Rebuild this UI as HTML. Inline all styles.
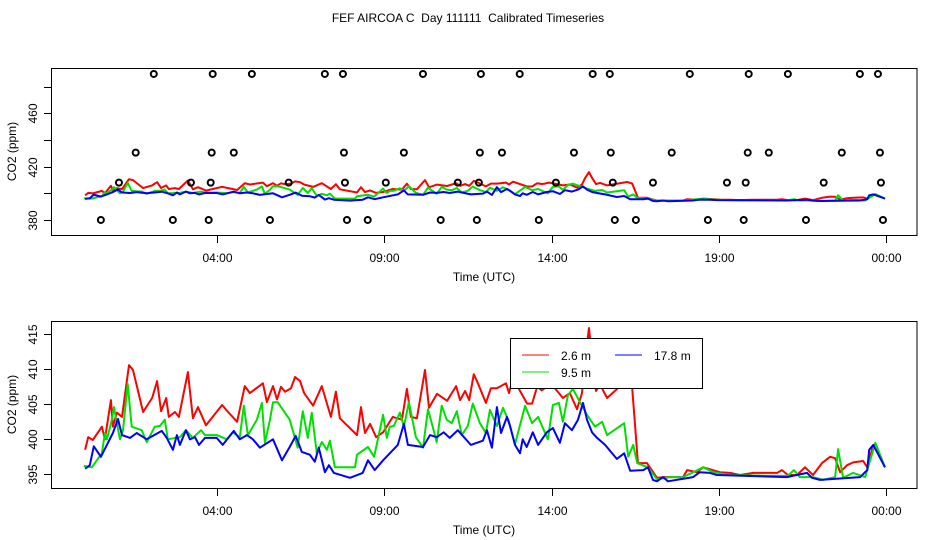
<!DOCTYPE html>
<html><head><meta charset="utf-8"><style>
body{margin:0;background:#fff}
svg{display:block;font-family:"Liberation Sans",sans-serif}
</style></head><body>
<svg id="c" width="936" height="540" xmlns="http://www.w3.org/2000/svg"></svg>
<script>
const tRed=[0.07,0.16,0.30,0.57,0.66,0.84,0.90,1.02,1.17,1.38,1.50,1.80,2.07,2.22,2.34,2.49,2.57,2.75,2.87,3.14,3.29,3.44,3.68,4.16,4.34,4.61,4.84,4.99,5.38,5.50,5.68,5.80,5.92,6.04,6.22,6.34,6.49,6.61,6.88,7.14,7.41,7.56,7.68,8.19,8.31,8.43,8.58,8.76,8.97,9.26,9.53,9.68,9.80,9.98,10.22,10.34,10.58,10.88,11.15,11.27,11.42,11.54,11.68,11.80,12.04,12.19,12.37,12.64,12.73,12.85,13.27,13.42,13.57,13.71,13.80,13.92,14.10,14.34,14.55,14.76,14.91,15.00,15.12,15.21,15.33,15.45,15.66,16.26,16.41,16.49,16.58,16.85,17.15,17.39,17.93,18.05,18.34,18.53,19.03,19.33,19.63,20.02,20.74,20.88,21.06,21.33,21.57,21.81,22.08,22.32,22.47,22.62,22.83,23.01,23.31,23.43,23.61];
const vRed=[398.5,400.3,399.9,401.8,400,405.6,401.8,403.8,403.2,410.6,409.9,403.9,405.9,408.3,404,405.9,403.2,403.9,403.2,409.6,403,404.6,402,404.9,403.9,402.5,407.6,406.6,408,405.3,407.6,405.7,407.5,406.8,407.3,408.9,408.3,406.6,404.8,407.6,403.2,406.8,403,400.6,404.6,400.9,402.2,400.3,401,403.2,402.8,407.2,403.2,403,409.9,404.5,406.5,405.5,407.6,405.6,406.9,405.6,409.3,408,405.2,407.3,407.3,408,406.6,408.7,405.1,405.1,407.5,407,407.3,408,407.3,405.9,406.6,404.3,406.6,411.3,415.9,411.6,406.9,407.8,405.9,408.5,407.3,402.3,396.6,396.6,394.5,394.6,394.6,395.6,395.3,396,395.3,395.2,394.9,395.2,395.2,395.6,394.9,394.9,396,394.9,396.6,397.5,397.3,395.3,396.3,396.7,396.9,396,399.2];
const tGreen=[0.03,0.27,0.57,0.66,0.72,0.87,0.93,1.02,1.11,1.20,1.34,1.46,1.76,1.91,2.15,2.30,2.45,2.54,2.90,3.08,3.29,3.53,3.65,4.00,4.30,4.48,4.69,4.81,4.93,5.20,5.35,5.44,5.59,5.68,5.82,6.18,6.42,6.57,6.72,6.84,6.99,7.14,7.29,7.38,7.53,8.13,8.19,8.52,8.70,8.97,9.08,9.17,9.29,9.47,9.59,9.74,9.95,10.16,10.31,10.45,10.57,10.72,10.87,11.02,11.17,11.32,11.50,11.65,11.86,12.04,12.16,12.37,12.55,12.73,12.91,13.21,13.42,13.60,13.89,14.04,14.22,14.34,14.49,14.64,14.85,15.06,15.30,15.51,15.66,16.17,16.29,16.44,16.56,16.88,17.15,17.54,17.93,18.53,18.83,19.33,20.44,21.06,21.24,21.42,21.81,22.11,22.47,22.56,22.71,23.01,23.37,23.67,23.96];
const vGreen=[396.2,396,398,400.9,400,402.8,404.6,402.3,400,401.3,407.9,401.8,401.3,399.6,401.8,401.9,402.8,400,400.3,401.3,400.2,401.3,400.6,400.6,400,401,400.3,404.8,400.6,402.8,405.2,399.5,402.8,405.3,405.3,402.8,398.8,404,400.2,403.8,398,399.6,398.5,399.8,396,396,397.8,398.9,397.5,403.5,400.2,401.8,401.9,403.8,401.8,405.3,400.3,398.8,404.3,401.8,399.6,404.8,402.8,402.3,404,400.6,401.9,405.1,402.3,400.9,404.2,401.9,404.5,402.5,399.3,404.8,402.3,403.2,400,404.9,405.2,402.5,406.3,407.2,405.3,403.5,401.8,402.5,400.6,402.3,397.5,399.2,396.6,396,394.3,394.6,394.6,396,395.3,394.9,394.8,394.8,395.6,394.6,394.6,394.2,394.6,398.6,394.5,395.2,394.6,399.5,396];
const tBlue=[0.07,0.21,0.33,0.54,0.72,0.90,1.05,1.17,1.41,1.61,1.91,2.36,2.51,2.69,2.81,2.90,3.08,3.20,3.35,3.47,3.65,4.00,4.18,4.51,4.69,4.90,5.08,5.29,5.68,5.95,6.18,6.36,6.54,6.78,6.93,7.05,7.23,7.35,7.50,7.98,8.36,8.52,8.72,8.97,9.41,9.59,9.71,10.16,10.37,10.57,10.78,10.96,11.20,11.59,11.95,12.07,12.22,12.37,12.49,12.67,12.76,12.91,13.06,13.14,13.26,13.44,13.60,13.86,14.04,14.25,14.40,14.61,14.79,14.94,15.06,15.21,15.36,15.60,15.95,16.17,16.35,16.74,16.88,17.03,17.15,17.33,17.48,18.23,18.43,18.73,18.94,21.03,21.63,21.78,22.02,23.22,23.43,23.49,23.61,23.96];
const vBlue=[395.8,396.3,399,397.5,399.2,400.9,402.9,400.6,400.2,400.9,400,401.2,400.2,398.5,400.6,399.2,401.3,400,400.3,399.2,400.2,400.2,399.2,401.2,400,400.6,400,398.8,400,397,398.9,400.5,398.2,397.8,396.8,398.8,395.3,396.3,395.2,394.5,395.2,397,395.6,397,399.2,402.2,399.2,398.9,400.6,400.3,401,400.2,401.3,399.2,399.8,401.3,398.8,404.6,400.9,403.2,401.9,399.2,398,400,398.9,401,399.2,401,401.6,399.5,402.3,401.3,402.8,405.2,402.8,401,400.2,399.2,397.2,398,395.5,395.6,396,394.2,394,394.6,394,394.6,395.3,395.2,394.9,394.6,395.2,394.5,394.2,394.6,395.6,398.5,399.2,396];
const cTimes490=[2.12,3.88,5.05,7.23,7.77,10.16,11.89,13.05,15.23,15.74,18.13,19.89,21.06,23.21,23.75];
const cTimes430=[1.58,3.85,4.51,7.80,9.59,11.86,12.52,14.67,15.77,17.59,19.86,20.49,22.67,23.81];
const cTimes408=[1.08,3.23,3.82,6.15,7.83,9.05,11.20,11.83,14.13,15.83,17.03,19.24,19.80,22.13,23.84];
const cTimes380=[0.54,2.69,3.76,5.59,7.89,8.51,10.69,11.77,13.62,15.89,16.52,18.67,19.74,21.60,23.90];
const circleLevels=[489.5,430.5,408,380];
const xTickHours=[4,9,14,19,24];
const xTickLabels=["04:00","09:00","14:00","19:00","00:00"];
const topYTicks=[380,400,420,440,460,480];
const topYLabels=["380","","420","","460",""];
const botYTicks=[395,400,405,410,415];

const NS="http://www.w3.org/2000/svg";
const svg=document.getElementById('c');
function mk(tag,attrs,parent){const e=document.createElementNS(NS,tag);for(const k in attrs)e.setAttribute(k,attrs[k]);(parent||svg).appendChild(e);return e;}
const xS=h=>82.8+h*33.48;
const topY=v=>193.3-(v-400)*1.3335;
const botY=v=>439.3-(v-400)*7;

const title=mk('text',{x:468,y:22,'text-anchor':'middle','font-size':12,style:'white-space:pre'});
title.textContent="FEF AIRCOA C  Day 111111  Calibrated Timeseries";



function panel(name,top,bottom,yFn,ticks,labels,series){
  const g=mk('g',{});
  
  
  const box=mk('rect',{x:51.5,y:top+0.5,width:865.5,height:bottom-top,fill:'none',stroke:'#000','stroke-width':1},g);
  
  
  xTickHours.forEach((h,i)=>{
    const x=Math.round(xS(h))+0.5;
    const tk=mk('line',{x1:x,x2:x,y1:bottom+0.5,y2:bottom+8,stroke:'#000'},g);
    
    
    const t=mk('text',{x:x,y:bottom+27,'text-anchor':'middle','font-size':12},g);
    t.textContent=xTickLabels[i];
    
    
  });
  ticks.forEach((v,i)=>{
    const y=Math.round(yFn(v))+0.5;
    const tk=mk('line',{x1:44,x2:51.5,y1:y,y2:y,stroke:'#000'},g);
    
    
    if(labels[i]){
      const t=mk('text',{x:0,y:0,'text-anchor':'middle','font-size':12,transform:`translate(37,${y}) rotate(-90)`},g);
      t.textContent=labels[i];
      
      
    }
  });
  const yt=mk('text',{x:0,y:0,'text-anchor':'middle','font-size':12,transform:`translate(16,${(top+bottom)/2}) rotate(-90)`},g);
  yt.textContent="CO2 (ppm)";
  
  
  const xt=mk('text',{x:484,y:bottom+46,'text-anchor':'middle','font-size':12},g);
  xt.textContent="Time (UTC)";
  
  
  series.forEach(s=>{
    const d=s.t.map((h,i)=>(i?'L':'M')+xS(h).toFixed(1)+','+yFn(s.v[i]).toFixed(1)).join('');
    const p=mk('path',{d:d,fill:'none',stroke:s.c,'stroke-width':2,'stroke-linejoin':'round'},g);
    
    
  });
  return g;
}
const series=[{t:tRed,v:vRed,c:'#ff0000',n:'series-2.6m'},{t:tGreen,v:vGreen,c:'#00e000',n:'series-9.5m'},{t:tBlue,v:vBlue,c:'#0000ff',n:'series-17.8m'}];
const gTop=panel('top-panel',68,235,topY,topYTicks,topYLabels,series);
panel('bottom-panel',321,488,botY,botYTicks,botYTicks.map(String),series);

[cTimes490,cTimes430,cTimes408,cTimes380].forEach((arr,li)=>{
  arr.forEach(h=>{
    const c=mk('circle',{cx:xS(h),cy:topY(circleLevels[li]),r:3,fill:'none',stroke:'#000','stroke-width':2},gTop);
    
    
  });
});

const lg=mk('g',{});


const lr=mk('rect',{x:510.5,y:338.5,width:192,height:50,fill:'#fff',stroke:'#000'},lg);


const entries=[{x:522,y:355,c:'#ff0000',l:'2.6 m'},{x:522,y:372,c:'#00e000',l:'9.5 m'},{x:615,y:355,c:'#0000ff',l:'17.8 m'}];
entries.forEach(e=>{
  const ln=mk('line',{x1:e.x,x2:e.x+27,y1:e.y,y2:e.y,stroke:e.c,'stroke-width':1},lg);
  
  
  const t=mk('text',{x:e.x+39,y:e.y+5,'font-size':12},lg);
  t.textContent=e.l;
  
  
});
</script>
</body></html>
